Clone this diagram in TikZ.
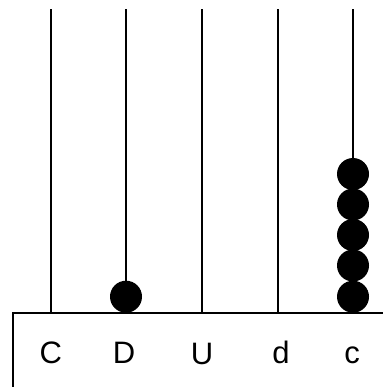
\documentclass[tikz,border=0pt]{standalone}
\usepackage{fontspec}
\setmainfont{Liberation Sans}
\begin{document}
\begin{tikzpicture}[x=1pt,y=-1pt,
  rod/.style={line width=2pt},
  bead/.style={circle,fill=black,inner sep=0pt,minimum size=32pt},
  lbl/.style={font=\fontsize{31}{31}\selectfont,anchor=base}]
\useasboundingbox (0,0) rectangle (382,387);
\coordinate (bl) at (13,388);
\coordinate (tl) at (13,313);
\coordinate (tr) at (383,313);
\draw[line width=1.5pt] (bl) -- (tl) -- (tr);
\foreach \n/\x in {r1/50.5,r2/126,r3/201.5,r4/277.5,r5/353}{
  \coordinate (\n t) at (\x,9.5);
  \coordinate (\n b) at (\x,313);
  \draw[rod] (\n t) -- (\n b);
}
\node[bead] (b0) at (126,296.7) {};
\foreach \i/\y in {1/174,2/204.5,3/235,4/265.5,5/296.7}{
  \node[bead] (c\i) at (353,\y) {};
}
\node[lbl] (lC) at (50.7,363) {C};
\node[lbl] (lD) at (124,363) {D};
\node[lbl] (lU) at (202,364) {U};
\node[lbl] (ld) at (281,363) {d};
\node[lbl] (lc) at (352,363) {c};
\end{tikzpicture}
\end{document}
